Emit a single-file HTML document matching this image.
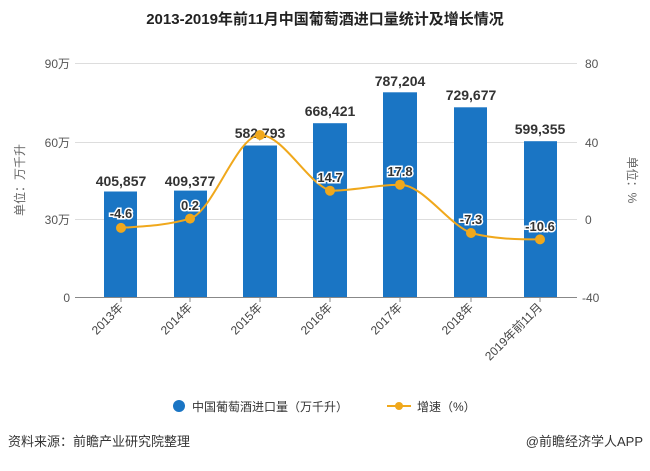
<!DOCTYPE html>
<html><head><meta charset="utf-8"><style>
body{margin:0;background:#fff;width:650px;height:466px;overflow:hidden;font-family:"Liberation Sans","Noto Sans CJK SC",sans-serif}
</style></head><body>
<svg width="650" height="466" xmlns="http://www.w3.org/2000/svg" font-family="Liberation Sans, Noto Sans CJK SC, sans-serif">
<text x="325" y="24" text-anchor="middle" font-size="15" font-weight="bold" fill="#222">2013-2019年前11月中国葡萄酒进口量统计及增长情况</text>
<g stroke="#ddd" stroke-width="1">
<line x1="75" y1="63.5" x2="577" y2="63.5"/><line x1="75" y1="142.5" x2="577" y2="142.5"/><line x1="75" y1="219.5" x2="577" y2="219.5"/>
</g>
<line x1="75" y1="297.5" x2="577" y2="297.5" stroke="#888"/>
<g font-size="12" fill="#555">
<text x="70" y="68" text-anchor="end">90万</text><text x="70" y="147" text-anchor="end">60万</text><text x="70" y="224" text-anchor="end">30万</text><text x="70" y="302" text-anchor="end">0</text>
<text x="585" y="68">80</text><text x="585" y="147">40</text><text x="585" y="224">0</text><text x="582" y="302">-40</text>
</g>
<text transform="translate(24,180) rotate(-90)" text-anchor="middle" font-size="12" fill="#666">单位：万千升</text>
<text transform="translate(628,180) rotate(90)" text-anchor="middle" font-size="12" fill="#666">单位：%</text>
<g fill="#1a75c4">
<rect x="104" y="191.5" width="33" height="105.5"/>
<rect x="174" y="190.6" width="33" height="106.4"/>
<rect x="243" y="145.5" width="34" height="151.5"/>
<rect x="313" y="123.2" width="34" height="173.8"/>
<rect x="383" y="92.3" width="34" height="204.7"/>
<rect x="454" y="107.3" width="33" height="189.7"/>
<rect x="524" y="141.2" width="33" height="155.8"/>
</g>
<g stroke="#888"><line x1="121" y1="297" x2="121" y2="302"/><line x1="190" y1="297" x2="190" y2="302"/><line x1="260" y1="297" x2="260" y2="302"/><line x1="330" y1="297" x2="330" y2="302"/><line x1="400" y1="297" x2="400" y2="302"/><line x1="471" y1="297" x2="471" y2="302"/><line x1="540" y1="297" x2="540" y2="302"/></g>
<g font-size="14" font-weight="bold" fill="#333" text-anchor="middle">
<text x="121" y="186">405,857</text><text x="190" y="186">409,377</text><text x="260" y="138">582,793</text><text x="330" y="116">668,421</text><text x="400" y="86">787,204</text><text x="471" y="100">729,677</text><text x="540" y="134">599,355</text>
</g>
<path d="M121,227.9 C144,226.3 167,225.5 190,218.6 C213,211.7 237,135 260,135 C283,135 307,182.5 330,190.7 C353,190.7 377,184.7 400,184.7 C423,184.7 448,224 471,233 C494,239 517,239.4 540,239.4" fill="none" stroke="#f0a81c" stroke-width="2"/>
<g fill="#f0a81c"><circle cx="121" cy="227.9" r="5"/><circle cx="190" cy="218.6" r="5"/><circle cx="260" cy="135" r="5"/><circle cx="330" cy="190.7" r="5"/><circle cx="400" cy="184.7" r="5"/><circle cx="471" cy="233" r="5"/><circle cx="540" cy="239.4" r="5"/></g>
<g font-size="13" font-weight="bold" fill="#333" text-anchor="middle" stroke="#fff" stroke-width="3" paint-order="stroke">
<text x="121" y="218">-4.6</text><text x="190" y="210">0.2</text><text x="330" y="182">14.7</text><text x="400" y="176">17.8</text><text x="471" y="224">-7.3</text><text x="540" y="231">-10.6</text>
</g>
<g font-size="12" fill="#444" text-anchor="end">
<text transform="translate(124,308) rotate(-45)">2013年</text>
<text transform="translate(193,308) rotate(-45)">2014年</text>
<text transform="translate(263,308) rotate(-45)">2015年</text>
<text transform="translate(333,308) rotate(-45)">2016年</text>
<text transform="translate(403,308) rotate(-45)">2017年</text>
<text transform="translate(474,308) rotate(-45)">2018年</text>
<text transform="translate(543,308) rotate(-45)">2019年前11月</text>
</g>
<circle cx="179" cy="406" r="6" fill="#1a75c4"/>
<text x="192" y="411" font-size="12" fill="#333">中国葡萄酒进口量（万千升）</text>
<line x1="387" y1="406" x2="411" y2="406" stroke="#f0a81c" stroke-width="2"/><circle cx="399" cy="406" r="4" fill="#f0a81c"/>
<text x="417" y="411" font-size="12" fill="#333">增速（%）</text>
<text x="8" y="446" font-size="13" fill="#333">资料来源：前瞻产业研究院整理</text>
<text x="643" y="446" font-size="13" fill="#333" text-anchor="end">@前瞻经济学人APP</text>
</svg>
</body></html>
